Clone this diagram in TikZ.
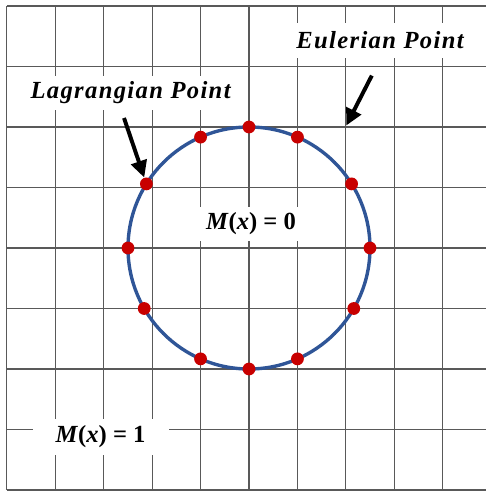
\documentclass[tikz,border=0pt]{standalone}
\usepackage{fontspec}
\setmainfont{Liberation Serif}
\usetikzlibrary{arrows.meta}
\definecolor{ringblue}{RGB}{47,85,151}
\definecolor{dotred}{RGB}{200,0,0}
\tikzset{
  gridline/.style={black!65,line width=0.85pt},
  labelbox/.style={fill=white,inner sep=0pt,font=\fontsize{17.5}{20}\selectfont\bfseries},
  wide/.style={font=\fontsize{17.5}{20}\selectfont\bfseries\itshape\addfontfeature{LetterSpace=5.5}},
  lagdot/.style={circle,fill=dotred,inner sep=0pt,minimum size=0.32cm},
  pointer/.style={line width=2.8pt,-{Triangle[length=0.42cm,width=0.4cm]}}
}
\begin{document}
\begin{tikzpicture}
  \useasboundingbox (-6.225,-6.1) rectangle (5.925,6.2);
  \fill[white] (-6.225,-6.1) rectangle (5.925,6.2);
  % grid
  \foreach \k in {-5,...,4}
    \draw[gridline] (\k*1.211,-6.05) -- (\k*1.211,6.05);
  \foreach \j in {-4,...,4}
    \draw[gridline] (-6.055,\j*1.5125) -- (5.925,\j*1.5125);
  % boundary and points
  \draw[ringblue,line width=2.4pt] (0,0) circle (3.025);
  \foreach \a/\n in {90/a,66.4/b,32/c,0/d,-30/e,-66.4/f,-90/g,-113.6/h,-150/i,180/j,148/k,113.6/l}
    \node[lagdot] (p\n) at (\a:3.025) {};
  % labels
  \node[labelbox,wide,minimum width=4.6cm,minimum height=0.875cm] (euler) at (3.275,5.19) {Eulerian Point};
  \node[labelbox,wide,minimum width=5.6cm,minimum height=0.85cm] (lagrange) at (-2.96,3.875) {Lagrangian Point};
  \node[labelbox,minimum width=3.3cm,minimum height=0.85cm] (inside) at (0.05,0.6) {\textit{M}(\textit{x}) = 0};
  \node[labelbox,minimum width=3.4cm,minimum height=0.9cm] (outside) at (-3.71,-4.725) {\textit{M}(\textit{x}) = 1};
  % arrows
  \coordinate (etail) at (3.07,4.31);
  \coordinate (ehead) at (2.43,3.06);
  \coordinate (ltail) at (-3.125,3.25);
  \draw[pointer] (etail) -- (ehead);
  \draw[pointer] (ltail) -- (pk);
\end{tikzpicture}
\end{document}
